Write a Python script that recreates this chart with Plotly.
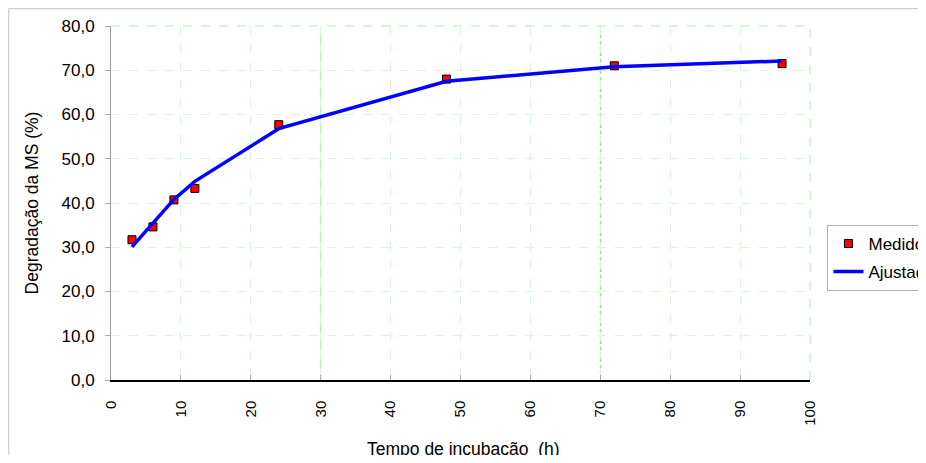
import plotly.graph_objects as go

# ---- data ----
tempo_h = [3, 6, 9, 12, 24, 48, 72, 96]
medido = [31.7, 34.6, 40.7, 43.3, 57.7, 68.0, 71.0, 71.5]
ajustado = [30.1, 35.4, 40.8, 44.9, 56.8, 67.5, 70.8, 72.1]
x_ticks = list(range(0, 101, 10))
y_ticks = list(range(0, 81, 10))
accent_grid_x = [30, 70]
series_names = ["Medido", "Ajustado"]
x_title = "Tempo de incubação \u00a0(h)"
y_title = "Degradação da MS (%)"

FONT = "Liberation Sans, Arial, sans-serif"

fig = go.Figure()
fig.add_trace(go.Scatter(
    x=tempo_h, y=medido, mode="markers", name=series_names[0],
    legendgroup="a",
    marker=dict(symbol="square", size=8, color="#ff0000",
                line=dict(color="#000000", width=1)),
))
fig.add_trace(go.Scatter(
    x=tempo_h, y=ajustado, mode="lines", name=series_names[1],
    legendgroup="b",
    line=dict(color="#0000ff", width=3.5),
))

grid_col = "#d9f8d9"
fig.update_xaxes(
    range=[0, 100], tickvals=x_ticks, tickangle=-90,
    showgrid=True, gridcolor=grid_col, griddash="dash", gridwidth=1,
    showline=True, linecolor="#000000", linewidth=1.5,
    ticks="inside", ticklen=5, tickcolor="#aaaaaa",
    tickfont=dict(family=FONT, size=15, color="#000000"),
    ticklabelstandoff=13,
    zeroline=False,
)
fig.update_yaxes(
    range=[0, 80], tickvals=y_ticks, tickformat=".1f",
    showgrid=True, gridcolor=grid_col, griddash="dash", gridwidth=1,
    showline=True, linecolor="#999999", linewidth=1,
    ticks="outside", ticklen=5, tickcolor="#aaaaaa",
    tickfont=dict(family=FONT, size=17, color="#000000"),
    ticklabelstandoff=7,
    zeroline=False,
    title=dict(text=y_title,
               font=dict(family=FONT, size=17.5, color="#000000"), standoff=18),
)

# x-axis title placed as annotation so it can sit at the very bottom edge
fig.add_annotation(text=x_title, xref="paper", yref="paper", x=0.505, y=-0.195,
                   xanchor="center", yanchor="middle", showarrow=False,
                   font=dict(family=FONT, size=17.5, color="#000000"))

shapes = []
for i, gx in enumerate(accent_grid_x):
    shapes.append(dict(type="line", xref="x", yref="paper", x0=gx, x1=gx, y0=0, y1=1,
                       line=dict(color="#a6f0a6" if i == 0 else "#66ee66", width=1,
                                 dash="solid" if i == 0 else "dot"),
                       layer="below"))
# dashed border at top and right of plot area
shapes.append(dict(type="line", xref="paper", yref="paper", x0=0, x1=1, y0=1, y1=1,
                   line=dict(color="#aaf5aa", width=1, dash="dash"), layer="below"))
shapes.append(dict(type="line", xref="paper", yref="paper", x0=1, x1=1, y0=0, y1=1,
                   line=dict(color="#aaf5aa", width=1, dash="dash"), layer="below"))
# outer chart frame (top and left edges)
shapes.append(dict(type="line", xref="paper", yref="paper",
                   x0=-0.1466, x1=1.2, y0=1.0494, y1=1.0494,
                   line=dict(color="#d0d0d0", width=1.5), layer="below"))
shapes.append(dict(type="line", xref="paper", yref="paper",
                   x0=-0.1466, x1=-0.1466, y0=-0.35, y1=1.0494,
                   line=dict(color="#d0d0d0", width=1.5), layer="below"))

fig.update_layout(
    width=910, height=447,
    margin=dict(l=103, r=108, t=18, b=75, autoexpand=False),
    paper_bgcolor="#ffffff", plot_bgcolor="#ffffff",
    separators=",.",
    font=dict(family=FONT, size=16, color="#000000"),
    shapes=shapes,
    showlegend=True,
    legend=dict(x=1.025, y=0.438, xanchor="left", yanchor="top",
                bordercolor="#b0b0b0", borderwidth=1, bgcolor="#ffffff",
                tracegroupgap=3,
                font=dict(family=FONT, size=17, color="#000000")),
)

fig.write_html("out.html")
